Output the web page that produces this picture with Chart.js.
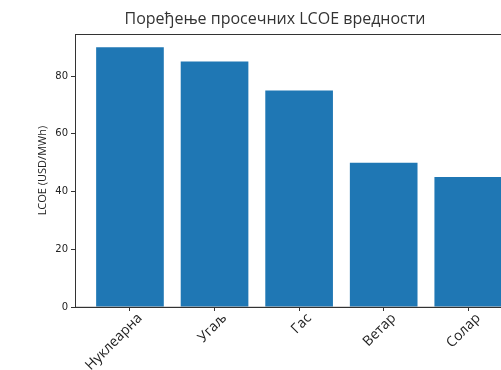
<!DOCTYPE html>
<html>
<head>
<meta charset="utf-8">
<script src="https://cdn.jsdelivr.net/npm/chart.js@4"></script>
<style>
  html, body { margin: 0; padding: 0; background: #fff; overflow: hidden; }
  #lcoe-chart { display: block; }
</style>
</head>
<body>
<canvas id="lcoe-chart" width="550" height="370"></canvas>
<script>
const sources = ['Нуклеарна', 'Угаљ', 'Гас', 'Ветар', 'Солар']
const lcoe_values = [90, 85, 75, 50, 45]
const y_ticks = [0, 20, 40, 60, 80]

// frame around the plot area (top and right spines)
const frame_plugin = {
    id: 'frame',
    afterDraw(chart) {
        let ctx = chart.ctx
        let a = chart.chartArea
        ctx.save()
        ctx.strokeStyle = '#333'
        ctx.lineWidth = 1
        ctx.strokeRect(Math.round(a.left) + 0.5, Math.round(a.top) + 0.5, a.right - a.left, a.bottom - a.top)
        ctx.restore()
    }
}

function set_up_chart() {
    const data = {
        datasets: [{
            label: 'LCOE',
            data: sources.map((s, i) => ({ x: i, y: lcoe_values[i] })),
            backgroundColor: '#1f77b4',
            borderWidth: 0,
            barPercentage: 0.8,
            categoryPercentage: 1.0
        }]
    }

    const config = {
        type: 'bar',
        data: data,
        options: {
            responsive: false,
            animation: false,
            layout: { padding: 0 },
            plugins: {
                legend: { display: false },
                tooltip: { enabled: false },
                title: {
                    display: true,
                    text: 'Поређење просечних LCOE вредности',
                    color: '#333',
                    font: { family: 'Open Sans', size: 16, weight: 'normal' },
                    padding: { top: 10, bottom: 5 }
                }
            },
            scales: {
                x: {
                    type: 'linear',
                    min: -0.65,
                    max: 4.6,
                    offset: false,
                    afterBuildTicks: scale => { scale.ticks = sources.map((s, i) => ({ value: i })) },
                    afterFit: scale => { scale.height = 63 },
                    grid: { display: true, offset: false, drawOnChartArea: false, tickLength: 4, color: '#333' },
                    border: { display: true, color: '#333' },
                    ticks: {
                        callback: v => sources[v],
                        minRotation: 45,
                        maxRotation: 45,
                        padding: -1,
                        labelOffset: 10,
                        color: '#222',
                        font: { family: 'Open Sans', size: 14 }
                    }
                },
                y: {
                    min: 0,
                    max: 94.5,
                    afterBuildTicks: scale => { scale.ticks = y_ticks.map(v => ({ value: v })) },
                    afterFit: scale => { scale.width = 75 },
                    grid: { display: true, drawOnChartArea: false, tickLength: 4, color: '#333' },
                    border: { display: true, color: '#333' },
                    ticks: {
                        padding: 3,
                        color: '#222',
                        font: { family: 'DejaVu Sans', size: 10 }
                    },
                    title: {
                        display: true,
                        text: 'LCOE (USD/MWh)',
                        color: '#222',
                        font: { family: 'Open Sans', size: 11 },
                        padding: { top: 36, bottom: 0 }
                    }
                },
                // empty strip on the right so the plot runs past the page edge
                y2: {
                    position: 'right',
                    display: true,
                    afterFit: scale => { scale.width = 31 },
                    grid: { display: false },
                    border: { display: false },
                    ticks: { display: false }
                }
            }
        },
        plugins: [frame_plugin]
    }

    new Chart(document.querySelector('#lcoe-chart'), config)
}

set_up_chart()
</script>
</body>
</html>
